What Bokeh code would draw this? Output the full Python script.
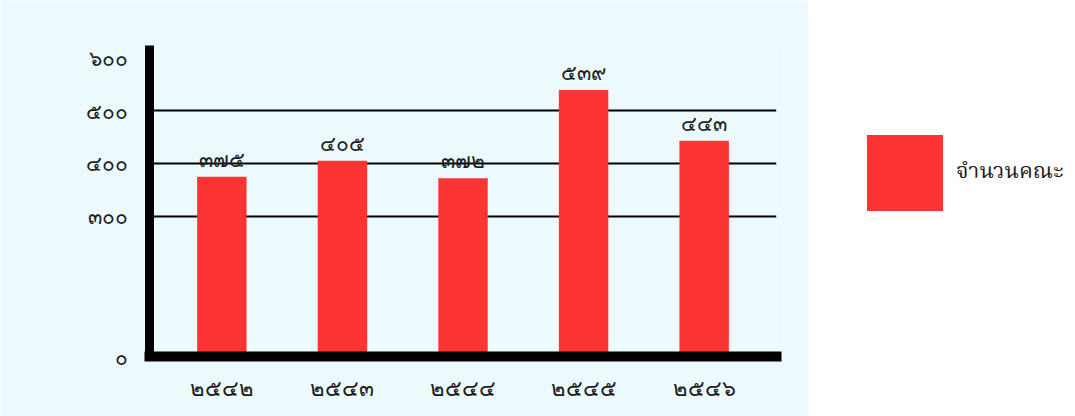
import numpy as np
from bokeh.plotting import figure
from bokeh.models import (ColumnDataSource, FactorRange, Range1d, FixedTicker,
                          LabelSet, Legend, LegendItem)
from bokeh.layouts import row
from bokeh.embed import file_html
from bokeh.resources import INLINE

# ---- data ----
years = ["๒๕๔๒", "๒๕๔๓", "๒๕๔๔", "๒๕๔๕", "๒๕๔๖"]
counts = [375, 405, 372, 539, 443]
series_name = "จำนวนคณะ"
tick_values = [0, 300, 400, 500, 600]
tick_labels = ["๐", "๓๐๐", "๔๐๐", "๕๐๐", "๖๐๐"]
grid_values = [300, 400, 500]

THAI = str.maketrans("0123456789", "๐๑๒๓๔๕๖๗๘๙")

# broken value axis: 0-300 is compressed, 300-600 is linear
BREAK_POS = [0, 265, 365, 465, 565]


def to_axis(v):
    return np.interp(v, tick_values, BREAK_POS)


BLUE_BG = "#ecf9fd"
RED = "#fc3434"
FONT = "Noto Sans"
SERIF = "Noto Serif Thai, Kinnari, Norasi, Liberation Serif, serif"
TXT = "#1e1e1e"

src = ColumnDataSource(dict(
    year=years,
    top=to_axis(counts),
    label=[str(c).translate(THAI) for c in counts],
))

p = figure(width=808, height=416, output_backend="svg", toolbar_location=None,
           x_range=FactorRange(*years, range_padding=0.1, range_padding_units="absolute"),
           y_range=Range1d(0, 588),
           min_border_left=149, min_border_right=32, min_border_top=45, min_border_bottom=60)
p.background_fill_color = BLUE_BG
p.border_fill_color = BLUE_BG
p.outline_line_color = None

r = p.vbar(x="year", top="top", width=0.41, source=src, fill_color=RED, line_color=None)

p.add_layout(LabelSet(x="year", y="top", text="label", source=src, y_offset=10,
                      text_align="center", text_baseline="alphabetic",
                      text_font_size="21px", text_color=TXT, text_font=FONT))

# axes
p.yaxis.ticker = FixedTicker(ticks=BREAK_POS)
p.yaxis.major_label_overrides = {b: t for b, t in zip(BREAK_POS, tick_labels)}
p.yaxis.axis_line_width = 9
p.yaxis.axis_line_color = "black"
p.yaxis.major_tick_line_color = None
p.yaxis.minor_tick_line_color = None
p.yaxis.major_tick_in = 0
p.yaxis.major_tick_out = 0
p.yaxis.major_label_standoff = 22
p.yaxis.major_label_text_font_size = "21px"
p.yaxis.major_label_text_font = FONT
p.yaxis.major_label_text_color = TXT

p.xaxis.axis_line_width = 10
p.xaxis.axis_line_color = "black"
p.xaxis.axis_line_cap = "square"
p.xaxis.major_tick_line_color = None
p.xaxis.major_tick_in = 0
p.xaxis.major_tick_out = 0
p.xaxis.major_label_standoff = 15
p.xaxis.major_label_text_font_size = "22px"
p.xaxis.major_label_text_font = FONT
p.xaxis.major_label_text_color = TXT

p.xgrid.grid_line_color = None
p.ygrid.ticker = FixedTicker(ticks=list(to_axis(grid_values)))
p.ygrid.grid_line_color = "black"
p.ygrid.grid_line_width = 2

# legend panel (its frame is aligned with the chart frame: top 45, bottom 356)
q = figure(width=267, height=416, output_backend="svg", toolbar_location=None,
           min_border=0, x_range=Range1d(0, 1), y_range=Range1d(0, 1))
q.axis.visible = False
q.grid.visible = False
q.outline_line_color = None
q.background_fill_color = "white"
q.border_fill_color = "white"
lr = q.vbar(x=[5], top=[5], width=0.5, fill_color=RED, line_color=None)
legend = Legend(items=[LegendItem(label=series_name, renderers=[lr])],
                location=(49, 136), padding=0, margin=0, border_line_color=None,
                background_fill_alpha=0, glyph_width=95, glyph_height=95,
                label_standoff=4, label_text_font=SERIF,
                label_text_font_size="22px", label_text_color=TXT)
q.add_layout(legend)

layout = row(p, q)
open("out.html", "w").write(file_html(layout, INLINE))
